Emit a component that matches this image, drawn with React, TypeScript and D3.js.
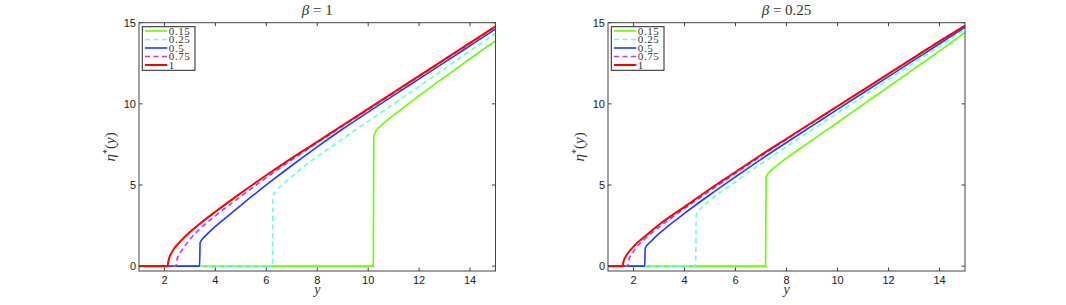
import React from 'react';
import { scaleLinear, line, curveMonotoneX } from 'd3';

// values, [y, eta*(y)]
const levels = ['0.15', '0.25', '0.5', '0.75', '1'];
const colors = ['#66ff00', '#66ffdd', '#1e3cff', '#b43cff', '#ff0000'];
const dashed = [false, true, false, true, false];

const b1_015 = [[1, 0], [10.2, 0], [10.22, 7.95], [10.3, 8.3], [10.5, 8.65], [11, 9.3], [12, 10.5], [13, 11.65], [14, 12.78], [15, 13.9]];
const b1_025 = [[1, 0], [6.24, 0], [6.26, 4.28], [6.4, 4.65], [6.7, 5.1], [7.33, 5.95], [8, 6.75], [9, 7.85], [10, 8.93], [11, 10.0], [12, 11.08], [13, 12.17], [14, 13.26], [15, 14.35]];
const b1_05 = [[1, 0], [3.38, 0], [3.4, 1.45], [3.6, 1.85], [4, 2.45], [4.5, 3.1], [5, 3.75], [6, 5.0], [7, 6.2], [8, 7.35], [9, 8.45], [10, 9.49], [11, 10.52], [12, 11.54], [13, 12.56], [14, 13.58], [15, 14.6]];
const b1_075 = [[1, 0], [2.45, 0], [2.5, 0.45], [2.7, 1.0], [3, 1.65], [3.5, 2.45], [4, 3.1], [5, 4.3], [6, 5.45], [7, 6.55], [8, 7.6], [9, 8.62], [10, 9.64], [11, 10.66], [12, 11.68], [13, 12.7], [14, 13.72], [15, 14.74]];
const b1_1 = [[1, 0], [2.12, 0], [2.16, 0.35], [2.3, 0.88], [2.6, 1.48], [3, 2.1], [3.5, 2.75], [4, 3.35], [5, 4.5], [6, 5.6], [7, 6.66], [8, 7.66], [9, 8.68], [10, 9.69], [11, 10.71], [12, 11.72], [13, 12.74], [14, 13.76], [15, 14.77]];

const b025_015 = [[1, 0], [7.18, 0], [7.2, 5.5], [7.4, 5.9], [7.7, 6.3], [8, 6.65], [9, 7.75], [10, 8.85], [11, 9.95], [12, 11.05], [13, 12.15], [14, 13.25], [15, 14.4]];
const b025_025 = [[1, 0], [4.44, 0], [4.46, 3.15], [4.7, 3.65], [5, 4.05], [6, 5.2], [7, 6.3], [8, 7.35], [9, 8.4], [10, 9.43], [11, 10.46], [12, 11.5], [13, 12.53], [14, 13.56], [15, 14.6]];
const b025_05 = [[1, 0], [2.44, 0], [2.46, 1.1], [2.7, 1.55], [3, 2.0], [4, 3.25], [5, 4.4], [6, 5.5], [7, 6.58], [8, 7.62], [9, 8.64], [10, 9.66], [11, 10.67], [12, 11.68], [13, 12.69], [14, 13.7], [15, 14.72]];
const b025_075 = [[1, 0], [1.77, 0], [1.82, 0.4], [2, 0.9], [2.5, 1.75], [3, 2.4], [4, 3.55], [5, 4.65], [6, 5.72], [7, 6.78], [8, 7.8], [9, 8.82], [10, 9.83], [11, 10.84], [12, 11.85], [13, 12.86], [14, 13.87], [15, 14.8]];
const b025_1 = [[1, 0], [1.57, 0], [1.61, 0.3], [1.7, 0.6], [2, 1.2], [2.5, 1.9], [3, 2.55], [4, 3.65], [5, 4.75], [6, 5.8], [7, 6.85], [8, 7.85], [9, 8.85], [10, 9.85], [11, 10.85], [12, 11.85], [13, 12.85], [14, 13.85], [15, 14.82]];

const xTicks = [2, 4, 6, 8, 10, 12, 14];
const yTicks = [0, 5, 10, 15];
const panels = [
  { beta: '1', left: 139, right: 495.5, series: [b1_015, b1_025, b1_05, b1_075, b1_1] },
  { beta: '0.25', left: 608, right: 965, series: [b025_015, b025_025, b025_05, b025_075, b025_1] },
];

const top = 22.7;
const bottom = 271;
const sans = 'Liberation Sans, Arial, sans-serif';
const serif = 'Liberation Serif, serif';

const Panel = ({ p }: { p: any }) => {
  const x = scaleLinear().domain([1, 15]).range([p.left, p.right]);
  const y = scaleLinear().domain([-0.3, 15]).range([bottom, top]);
  const path = line<number[]>().x(d => x(d[0])).y(d => y(d[1])).curve(curveMonotoneX);
  const cx = (p.left + p.right) / 2;
  const lx = p.left + 3.3;
  return (
    <g>
      {p.series.map((s: number[][], i: number) => (
        <path key={i} d={path(s) || ''} fill="none" stroke={colors[i]}
          strokeWidth={i === 4 ? 2 : 1.6} strokeDasharray={dashed[i] ? '5,3.5' : undefined} />
      ))}
      <rect x={p.left} y={top} width={p.right - p.left} height={bottom - top} fill="none" stroke="#444" strokeWidth={1} />
      {xTicks.map(t => (
        <g key={t}>
          <line x1={x(t)} x2={x(t)} y1={bottom} y2={bottom - 3.5} stroke="#444" />
          <line x1={x(t)} x2={x(t)} y1={top} y2={top + 3.5} stroke="#444" />
          <text x={x(t)} y={284} textAnchor="middle" fontFamily={sans} fontSize={11} fill="#222">{t}</text>
        </g>
      ))}
      {yTicks.map(t => (
        <g key={t}>
          <line x1={p.left} x2={p.left + 3.5} y1={y(t)} y2={y(t)} stroke="#444" />
          <line x1={p.right} x2={p.right - 3.5} y1={y(t)} y2={y(t)} stroke="#444" />
          <text x={p.left - 3} y={y(t) + 4} textAnchor="end" fontFamily={sans} fontSize={11} fill="#222">{t}</text>
        </g>
      ))}
      <text x={cx} y={15} textAnchor="middle" fontFamily={serif} fontSize={15} fill="#333">
        <tspan fontStyle="italic">β</tspan> = {p.beta}
      </text>
      <text x={cx} y={293.5} textAnchor="middle" fontFamily={serif} fontStyle="italic" fontSize={14} fill="#333">y</text>
      <text transform={`translate(${p.left - 24},${(top + bottom) / 2}) rotate(-90)`} textAnchor="middle"
        fontFamily={serif} fontSize={15} fill="#333">
        <tspan fontStyle="italic">η</tspan><tspan fontSize={10} dy={-5}>*</tspan><tspan dy={5}>(</tspan><tspan fontStyle="italic">y</tspan>)
      </text>
      <rect x={lx} y={26.7} width={52.7} height={43.6} fill="#fff" stroke="#222" strokeWidth={1} />
      {levels.map((l, i) => (
        <g key={l}>
          <line x1={lx + 2.7} x2={lx + 25} y1={31 + i * 8.5} y2={31 + i * 8.5} stroke={colors[i]}
            strokeWidth={i === 4 ? 2 : 1.6} strokeDasharray={dashed[i] ? '5,3.5' : undefined} />
          <text x={lx + 26.5} y={34.5 + i * 8.5} fontFamily={serif} fontSize={11} letterSpacing={0.6} fill="#333">{l}</text>
        </g>
      ))}
    </g>
  );
};

export default function App() {
  return (
    <svg width={1066} height={305} style={{ position: 'absolute', left: 0, top: 0, background: '#fff' }}>
      {panels.map(p => <Panel key={p.beta} p={p} />)}
    </svg>
  );
}
